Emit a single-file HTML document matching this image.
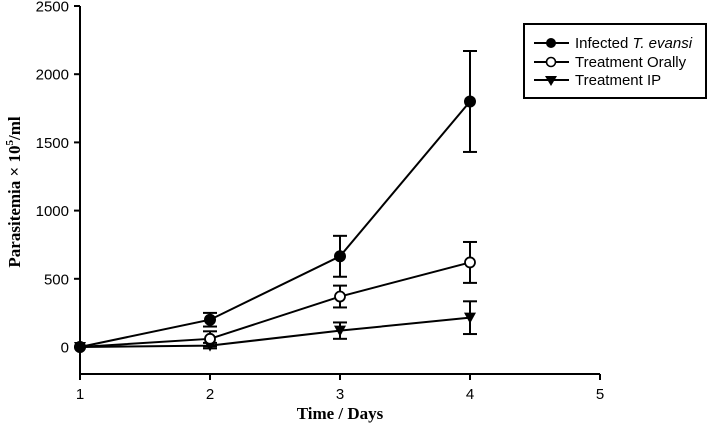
<!DOCTYPE html>
<html><head><meta charset="utf-8"><style>body{margin:0;background:#fff}svg{display:block}</style></head>
<body>
<svg id="chart" width="708" height="430" xmlns="http://www.w3.org/2000/svg" font-family="Liberation Sans, sans-serif">
<g id="axes"></g>
<g id="series"></g>
<text x="340" y="419" text-anchor="middle" font-family="Liberation Serif, serif" font-weight="bold" font-size="17">Time / Days</text>
<text transform="translate(20,192) rotate(-90)" text-anchor="middle" font-family="Liberation Serif, serif" font-weight="bold" font-size="17">Parasitemia × 10<tspan font-size="11" dy="-7">5</tspan><tspan dy="7">/ml</tspan></text>
<g>
<rect x="524" y="24" width="182" height="74" fill="#fff" stroke="#000" stroke-width="2"/>
<line x1="534" y1="43" x2="569" y2="43" stroke="#000" stroke-width="2"/><circle cx="551" cy="43" r="5" fill="#000"/>
<text x="575" y="48" font-size="15">Infected <tspan font-style="italic">T. evansi</tspan></text>
<line x1="534" y1="62" x2="569" y2="62" stroke="#000" stroke-width="2"/><circle cx="551" cy="62" r="4.5" fill="#fff" stroke="#000" stroke-width="1.6"/>
<text x="575" y="67" font-size="15">Treatment Orally</text>
<line x1="534" y1="80" x2="569" y2="80" stroke="#000" stroke-width="2"/><path d="M545,76 L557,76 L551,86 Z" fill="#000"/>
<text x="575" y="85" font-size="15">Treatment IP</text>
</g>
</svg>
<script>
const days=[1,2,3,4];
const infected=[0,200,665,1800];
const infectedErr=[0,50,150,370];
const oral=[0,60,370,620];
const oralErr=[0,55,80,150];
const ip=[0,10,120,215];
const ipErr=[0,20,60,120];
const yTicks=[0,500,1000,1500,2000,2500];
const xTicks=[1,2,3,4,5];
const NS='http://www.w3.org/2000/svg';
const X=v=>80+(v-1)*130;
const Y=v=>347-v*0.1364;
function mk(t,a,p){const e=document.createElementNS(NS,t);for(const k in a)e.setAttribute(k,a[k]);p.appendChild(e);return e;}
const ax=document.getElementById('axes');
const yl=mk('line',{x1:80,y1:6,x2:80,y2:374,stroke:'#000','stroke-width':2},ax);


const xl=mk('line',{x1:80,y1:374,x2:600,y2:374,stroke:'#000','stroke-width':2},ax);


yTicks.forEach(t=>{mk('line',{x1:74,y1:Y(t),x2:80,y2:Y(t),stroke:'#000','stroke-width':2},ax);
const tx=mk('text',{x:69,y:Y(t)+5.5,'text-anchor':'end','font-size':15},ax);tx.textContent=t;

});
xTicks.forEach(t=>{mk('line',{x1:X(t),y1:374,x2:X(t),y2:380,stroke:'#000','stroke-width':2},ax);
const tx=mk('text',{x:X(t),y:399,'text-anchor':'middle','font-size':15},ax);tx.textContent=t;

});
const sg=document.getElementById('series');
function series(vals,errs,kind,name){
const g=mk('g',{},sg);


mk('polyline',{points:vals.map((v,i)=>X(days[i])+','+Y(v)).join(' '),fill:'none',stroke:'#000','stroke-width':2},g);
vals.forEach((v,i)=>{const x=X(days[i]);
if(errs[i]>0){const a=Y(v+errs[i]),b=Y(v-errs[i]);
mk('line',{x1:x,y1:a,x2:x,y2:b,stroke:'#000','stroke-width':2},g);
mk('line',{x1:x-7,y1:a,x2:x+7,y2:a,stroke:'#000','stroke-width':2},g);
mk('line',{x1:x-7,y1:b,x2:x+7,y2:b,stroke:'#000','stroke-width':2},g);}
const y=Y(v);let m;
if(kind==='filled')m=mk('circle',{cx:x,cy:y,r:6,fill:'#000'},g);
else if(kind==='open')m=mk('circle',{cx:x,cy:y,r:5,fill:'#fff',stroke:'#000','stroke-width':1.8},g);
else m=mk('path',{d:`M${x-6},${y-5} L${x+6},${y-5} L${x},${y+6} Z`,fill:'#000'},g);

});}
series(ip,ipErr,'tri','series-treatment-ip');
series(oral,oralErr,'open','series-treatment-orally');
series(infected,infectedErr,'filled','series-infected');
</script>
</body></html>
